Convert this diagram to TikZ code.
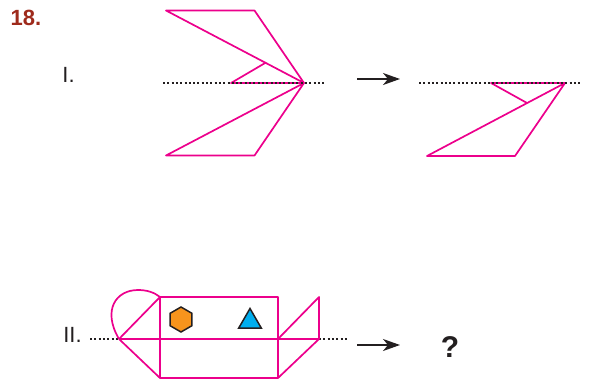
\documentclass[tikz,border=0pt]{standalone}
\usepackage{fontspec}
\setmainfont{Liberation Sans}
\usetikzlibrary{shapes,arrows.meta}
\definecolor{foldpink}{HTML}{EC008C}
\definecolor{numred}{HTML}{9E2A1C}
\definecolor{hexorange}{HTML}{F7941D}
\definecolor{tricyan}{HTML}{00AEEF}
\definecolor{inkgray}{HTML}{231F20}

\begin{document}
\begin{tikzpicture}[
  x=1pt, y=-1pt,
  fold/.style={draw=foldpink, line width=1.7pt, line join=round},
  axisline/.style={draw=inkgray, line width=1.8pt, dash pattern=on 2pt off 2.3pt},
  result/.style={draw=inkgray, line width=1.5pt, -{Stealth[length=17pt,width=12pt,inset=5pt]}},
  label/.style={font=\fontsize{22}{22}\selectfont, text=inkgray, inner sep=0pt},
  hexmark/.style={regular polygon, regular polygon sides=6, draw=inkgray, line width=1.5pt,
                  fill=hexorange, minimum size=25pt, inner sep=0pt},
  trimark/.style={regular polygon, regular polygon sides=3, draw=inkgray, line width=1.5pt,
                  fill=tricyan, minimum size=26pt, inner sep=0pt},
]
  \useasboundingbox (0,0) rectangle (591,383);

  % Labels
  \node[font=\fontsize{22}{22}\selectfont\bfseries, text=numred, inner sep=0pt] (num) at (26,18) {18.};
  \node[label] (one) at (68.5,75) {I.};
  \node[label] (two) at (72.5,335) {II.};
  \node[font=\fontsize{30}{30}\selectfont\bfseries, text=inkgray, inner sep=0pt] (quest) at (450,347) {?};

  % Row I, before folding
  \coordinate (atl) at (166,10.5);
  \coordinate (atr) at (254.5,10.5);
  \coordinate (apex) at (304,83);
  \coordinate (abl) at (166,155.5);
  \coordinate (abr) at (254.5,155.5);
  \coordinate (ain) at (231,83);
  \coordinate (aup) at (266,62.5);
  \coordinate (axl) at (163,83);
  \coordinate (axr) at (326,83);
  \draw[fold] (apex) -- (atr) -- (atl) -- cycle;
  \draw[fold] (apex) -- (abr) -- (abl) -- cycle;
  \draw[fold] (aup) -- (ain) -- (apex);
  \draw[axisline] (axl) -- (axr);

  % Row I, after folding
  \coordinate (bax) at (565,83);
  \coordinate (bin) at (491,83);
  \coordinate (bdn) at (527,103);
  \coordinate (bbl) at (427,156);
  \coordinate (bbr) at (515,156);
  \coordinate (bxl) at (419,83);
  \coordinate (bxr) at (580,83);
  \draw[fold] (bax) -- (bbr) -- (bbl) -- cycle;
  \draw[fold] (bdn) -- (bin) -- (bax);
  \draw[axisline] (bxl) -- (bxr);

  % Arrows
  \coordinate (aros) at (357,79);
  \coordinate (aroe) at (400,79);
  \coordinate (bros) at (357,345);
  \coordinate (broe) at (400,345);
  \draw[result] (aros) -- (aroe);
  \draw[result] (bros) -- (broe);

  % Row II
  \coordinate (ctl) at (160,297);
  \coordinate (ctr) at (278,297);
  \coordinate (cbl) at (160,378);
  \coordinate (cbr) at (278,378);
  \coordinate (cml) at (119,339);
  \coordinate (cmr) at (319,339);
  \coordinate (cmc) at (278,339);
  \coordinate (cup) at (319,297);
  \coordinate (cxl) at (90,339);
  \coordinate (cxr) at (347,339);
  \draw[axisline] (cxl) -- (cml);
  \draw[axisline] (cmr) -- (cxr);
  \draw[fold] (ctl) rectangle (cbr);
  \draw[fold] (cml) -- (cmr);
  \draw[fold] (cml) -- (ctl);
  \draw[fold] (cml) -- (cbl);
  \draw[fold] (cmc) -- (cup) -- (cmr) -- (cbr);
  \draw[fold] (cml) .. controls (102,310) and (116,290) .. (138,290)
     .. controls (146,290) and (154,292) .. (ctl);

  % Marks
  \node[hexmark, rotate=30] (hex) at (181,319.5) {};
  \node[trimark] (tri) at (250,321.5) {};
\end{tikzpicture}
\end{document}
